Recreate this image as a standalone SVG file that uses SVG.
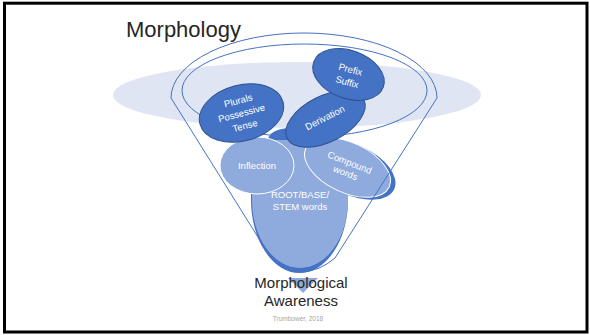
<svg xmlns="http://www.w3.org/2000/svg" width="590" height="335" viewBox="0 0 590 335">
  <style>
    .dark { fill: #4472c4; stroke: #2f528f; stroke-width: 1; }
    .light { fill: #8faadc; stroke: #ffffff; stroke-width: 1; }
    .shade { fill: #4472c4; stroke: none; }
    .outline { fill: none; stroke: #4472c4; stroke-width: 1; }
    .lbl { font-family: "Liberation Sans", Arial, sans-serif; font-size: 9.5px; fill: #ffffff; text-anchor: middle; }
    .ttl { font-family: "Liberation Sans", Arial, sans-serif; fill: #262626; }
  </style>
  <rect x="0" y="0" width="590" height="335" fill="#ffffff"/>
  <rect x="4.5" y="3.2" width="582.5" height="328.8" fill="none" stroke="#000000" stroke-width="3"/>

  <text class="ttl" x="126" y="37" font-size="22">Morphology</text>

  <ellipse id="backdrop" cx="297" cy="95" rx="184" ry="33" fill="#dfe5f2"/>

  <g id="shadows">
    <ellipse class="shade" cx="290" cy="140" rx="22" ry="12"/>
    <path class="shade" d="M251,185 L251,200 A48.5,73 0 0 0 348,200 L348,185 Z"/>
  </g>

  <g id="root">
    <path d="M252,150 Q252,140 262,140 L338,140 Q348,140 348,150 L348,200 A48,68 0 0 1 252,200 Z" fill="#8faadc"/>
    <text class="lbl" x="300" y="198">ROOT/BASE/</text>
    <text class="lbl" x="300" y="210">STEM words</text>
  </g>

  <g id="inflection">
    <ellipse class="light" cx="257" cy="165.5" rx="37" ry="28.5"/>
    <text class="lbl" x="257" y="169" font-size="10">Inflection</text>
  </g>

  <g id="compound">
    <ellipse class="shade" cx="352.5" cy="169.8" rx="46" ry="25" transform="rotate(25 352.5 169.8)"/>
    <ellipse class="light" cx="347.5" cy="167.5" rx="46" ry="25" transform="rotate(25 347.5 167.5)"/>
    <g transform="rotate(21.5 347.7 167.5)">
      <text class="lbl" x="347.7" y="165.5">Compound</text>
      <text class="lbl" x="347.7" y="176.5">words</text>
    </g>
  </g>

  <g id="funnel">
    <ellipse class="outline" cx="304.5" cy="90.5" rx="122.5" ry="46.5"/>
    <path class="outline" d="M171,98 A133,65 0 0 1 437,98 L335,258 Q303,285 271,258 Z"/>
  </g>

  <g id="plurals">
    <ellipse class="dark" cx="241.5" cy="113" rx="43" ry="28" transform="rotate(-15 241.5 113)"/>
    <g transform="rotate(-15 241.5 113)">
      <text class="lbl" x="241.5" y="103.5">Plurals</text>
      <text class="lbl" x="241.5" y="116.5">Possessive</text>
      <text class="lbl" x="241.5" y="129.5">Tense</text>
    </g>
  </g>

  <g id="derivation">
    <ellipse class="dark" cx="325.5" cy="119" rx="43" ry="23" transform="rotate(-27 325.5 119)"/>
    <text class="lbl" x="325" y="121" transform="rotate(-27 325 118)">Derivation</text>
  </g>

  <g id="prefix">
    <ellipse class="dark" cx="348.5" cy="74.5" rx="37" ry="24" transform="rotate(20 348.5 74.5)"/>
    <g transform="rotate(15 349 75)">
      <text class="lbl" x="349" y="72.5">Prefix</text>
      <text class="lbl" x="349" y="85.5">Suffix</text>
    </g>
  </g>

  <g id="output">
    <polygon points="288,278 318,278 303,293" fill="#8faadc"/>
    <text class="ttl" x="301" y="288" font-size="15" text-anchor="middle">Morphological</text>
    <text class="ttl" x="301" y="306" font-size="15" text-anchor="middle">Awareness</text>
    <text x="298" y="321" font-family="Liberation Sans, Arial, sans-serif" font-size="6.5" fill="#a6a6a6" text-anchor="middle">Trumbower, 2018</text>
  </g>
</svg>
